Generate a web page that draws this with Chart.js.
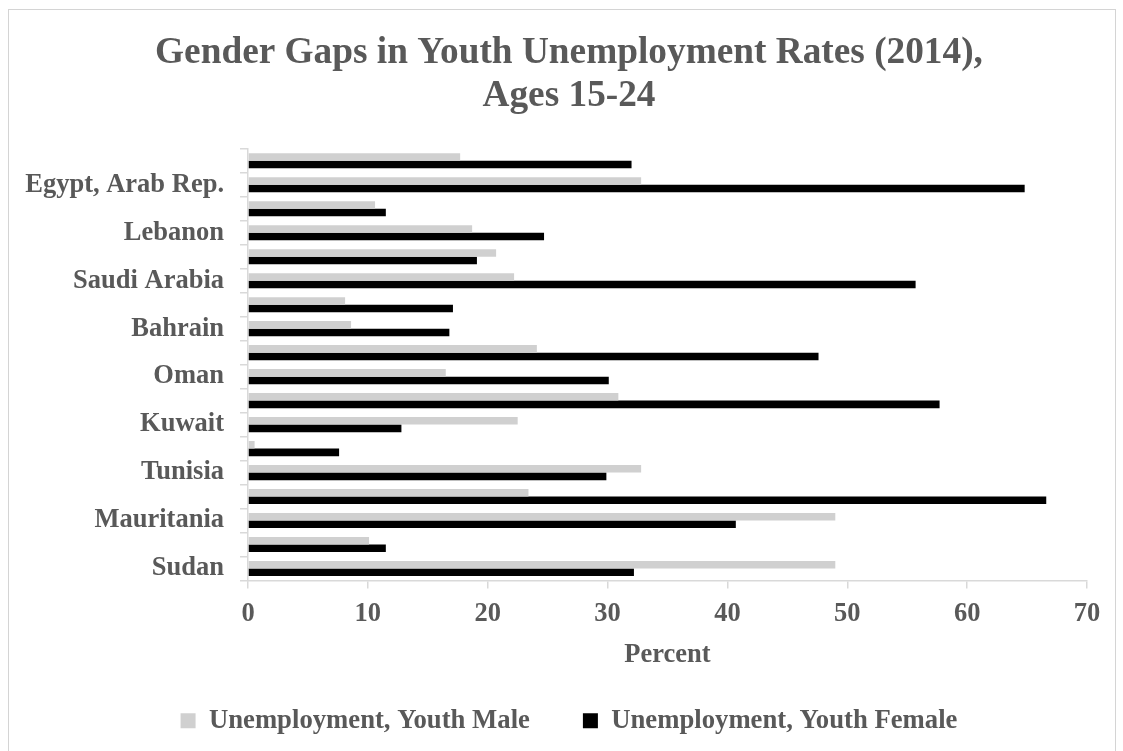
<!DOCTYPE html>
<html>
<head>
<meta charset="utf-8">
<title>Gender Gaps in Youth Unemployment Rates (2014)</title>
<script src="https://cdn.jsdelivr.net/npm/chart.js@4.4.1/dist/chart.umd.min.js"></script>
<style>
    body { margin: 0; background: #ffffff; }
    #wrap { position: relative; width: 1123px; height: 751px; overflow: hidden; }
    #frame { position: absolute; left: 8px; top: 9px; width: 1106px; height: 800px; border: 1px solid #d4d4d4; }
    #chart { position: absolute; left: 0; top: 0; }
</style>
</head>
<body>
<div id="wrap">
    <div id="frame"></div>
    <canvas id="chart" width="1123" height="751"></canvas>
</div>
<script>
// countries, top to bottom (the unlabelled rows have no readable name)
const countries = ['', 'Egypt, Arab Rep.', '', 'Lebanon', '', 'Saudi Arabia', '', 'Bahrain', '',
    'Oman', '', 'Kuwait', '', 'Tunisia', '', 'Mauritania', '', 'Sudan']

const youthMale = [17.7, 32.8, 10.6, 18.7, 20.7, 22.2, 8.1, 8.6, 24.1,
    16.5, 30.9, 22.5, 0.55, 32.8, 23.4, 49.0, 10.1, 49.0]
const youthFemale = [32.0, 64.8, 11.5, 24.7, 19.1, 55.7, 17.1, 16.8, 47.6,
    30.1, 57.7, 12.8, 7.6, 29.9, 66.6, 40.7, 11.5, 32.2]

const percentTicks = [0, 10, 20, 30, 40, 50, 60, 70]

const textColour = '#595959'
const axisColour = '#d9d9d9'
const serif = "'Liberation Serif', 'Times New Roman', serif"

function makeChart() {

    const config = {
        type: 'bar',
        data: {
            labels: countries,
            datasets: [{
                label: 'Unemployment, Youth Male',
                data: youthMale,
                backgroundColor: '#d0d0d0',
                categoryPercentage: 0.63,
                barPercentage: 1.0
            }, {
                label: 'Unemployment, Youth Female',
                data: youthFemale,
                backgroundColor: '#000000',
                categoryPercentage: 0.63,
                barPercentage: 1.0
            }]
        },
        options: {
            indexAxis: 'y',
            responsive: false,
            animation: false,
            layout: {
                padding: { left: 15, right: 0, top: 10, bottom: 7 }
            },
            plugins: {
                title: {
                    display: true,
                    text: ['Gender Gaps in Youth Unemployment Rates (2014),', 'Ages 15-24'],
                    color: textColour,
                    font: { family: serif, size: 37.3, weight: 'bold', lineHeight: 1.15 },
                    padding: { top: 22, bottom: 31 }
                },
                legend: {
                    position: 'bottom',
                    labels: {
                        color: textColour,
                        font: { family: serif, size: 26.7, weight: 'bold' },
                        boxWidth: 15,
                        boxHeight: 15,
                        padding: 53
                    }
                },
                tooltip: { enabled: false }
            },
            scales: {
                x: {
                    min: 0,
                    max: 70,
                    afterBuildTicks: (scale) => {
                        scale.ticks = percentTicks.map((v) => ({ value: v }))
                    },
                    afterFit: (scale) => {
                        scale.height = 73.8
                        scale.paddingRight = 36
                    },
                    grid: {
                        drawOnChartArea: false,
                        tickLength: 8,
                        color: axisColour,
                        lineWidth: 1.5
                    },
                    border: { color: axisColour, width: 1.5 },
                    ticks: {
                        color: textColour,
                        font: { family: serif, size: 26.5, weight: 'bold' },
                        padding: 9.5
                    },
                    title: {
                        display: true,
                        text: 'Percent',
                        color: textColour,
                        font: { family: serif, size: 26.5, weight: 'bold' },
                        padding: { top: 0, bottom: -16.5 }
                    }
                },
                y: {
                    afterFit: (scale) => {
                        scale.width = 233
                    },
                    grid: {
                        drawOnChartArea: false,
                        tickLength: 8,
                        color: axisColour,
                        lineWidth: 1.5
                    },
                    border: { color: axisColour, width: 1.5 },
                    ticks: {
                        autoSkip: false,
                        color: textColour,
                        font: { family: serif, size: 26.5, weight: 'bold' },
                        padding: 16
                    }
                }
            }
        }
    }

    new Chart(document.getElementById('chart'), config)
}

makeChart()
</script>
</body>
</html>
